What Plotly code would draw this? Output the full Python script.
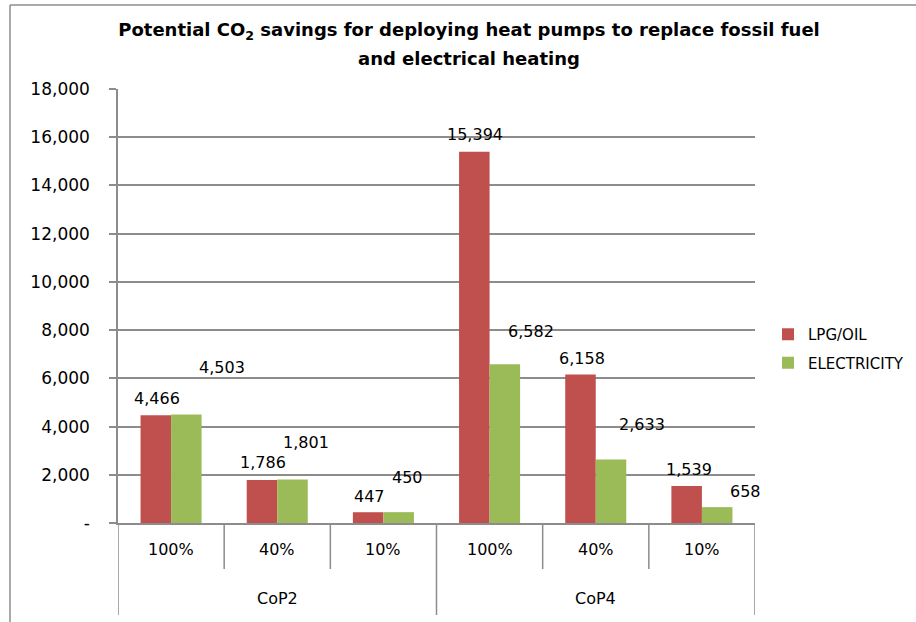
import plotly.graph_objects as go

# ---- data ----
groups = ["CoP2", "CoP4"]
shares = ["100%", "40%", "10%"]
series_names = ["LPG/OIL", "ELECTRICITY"]
lpg_oil = [4466, 1786, 447, 15394, 6158, 1539]
electricity = [4503, 1801, 450, 6582, 2633, 658]
y_ticks = [0, 2000, 4000, 6000, 8000, 10000, 12000, 14000, 16000, 18000]
title_lines = ["Potential CO<sub>2</sub> savings for deploying heat pumps to replace fossil fuel",
               "and electrical heating"]

# label placement offsets (px) reproducing the manually moved Excel labels
lpg_label_dx = [-14, -14, -14, -15, -14, -13]
lpg_label_dy = [17, 17, 16, 17, 16, 16]
elec_label_dx = [51, 29, 24, 41, 46, 44]
elec_label_dy = [47, 37, 35, 33, 35, 16]

colors = ["#C0504D", "#9BBB59"]
grid = "#8C8C8C"
FONT = "DejaVu Sans"

keys = [f"{g} {s}" for g in groups for s in shares]
W, H = 916, 622
L, R, T, B = 118, 161, 89, 99
plot_h = H - T - B
plot_w = W - L - R

fig = go.Figure()
fig.add_trace(go.Bar(x=keys, y=lpg_oil, name=series_names[0], marker_color=colors[0],
                     marker_line_width=0, legendgroup="a"))
fig.add_trace(go.Bar(x=keys, y=electricity, name=series_names[1], marker_color=colors[1],
                     marker_line_width=0, legendgroup="b"))

ann = []
for vals, dxs, dys in [(lpg_oil, lpg_label_dx, lpg_label_dy), (electricity, elec_label_dx, elec_label_dy)]:
    for k, v, dx, dy in zip(keys, vals, dxs, dys):
        ann.append(dict(x=k, y=v, xref="x", yref="y", text=f"{v:,}", showarrow=False,
                        xshift=dx, yshift=dy, font=dict(family=FONT, size=16, color="#000"),
                        xanchor="center", yanchor="middle"))

# category axis labels
for k, s in zip(keys, shares * len(groups)):
    ann.append(dict(x=k, y=0, xref="x", yref="paper", text=s, showarrow=False,
                    yshift=-26, font=dict(family=FONT, size=16, color="#000"),
                    xanchor="center", yanchor="middle"))
for gi, g in enumerate(groups):
    mid = keys[gi * len(shares) + len(shares) // 2]
    ann.append(dict(x=mid, y=0, xref="x", yref="paper", text=g, showarrow=False,
                    yshift=-75, font=dict(family=FONT, size=16, color="#000"),
                    xanchor="center", yanchor="middle"))

# second title line
ann.append(dict(x=(469 - L) / plot_w, y=1 + (T - 58) / plot_h, xref="paper", yref="paper",
                text="<b>" + title_lines[1] + "</b>",
                showarrow=False, xanchor="center", yanchor="middle",
                font=dict(family=FONT, size=18, color="#000")))

shapes = []
n = len(keys)
for i in range(n + 1):
    is_div = i % len(shares) == 0
    depth = 92 if is_div else 46
    shapes.append(dict(type="line", xref="x", yref="paper", x0=i - 0.5, x1=i - 0.5,
                       y0=0, y1=-depth / plot_h, line=dict(color=grid, width=1.5)))
# chart area border (left & top visible)
shapes.append(dict(type="line", xref="paper", yref="paper",
                   x0=(10 - L) / plot_w, x1=(10 - L) / plot_w,
                   y0=1 + (T - 5) / plot_h, y1=-(H - T) / plot_h,
                   line=dict(color="#8C8C8C", width=1.5)))
shapes.append(dict(type="line", xref="paper", yref="paper",
                   x0=(10 - L) / plot_w, x1=(W - L) / plot_w,
                   y0=1 + (T - 5) / plot_h, y1=1 + (T - 5) / plot_h,
                   line=dict(color="#8C8C8C", width=1.5)))

fig.update_layout(
    width=W, height=H,
    margin=dict(l=L, r=R, t=T, b=B, autoexpand=False),
    paper_bgcolor="white", plot_bgcolor="white",
    barmode="group", bargap=0.425, bargroupgap=0,
    title=dict(text=title_lines[0],
               x=469 / W, xanchor="center", xref="container",
               y=1 - 30 / H, yanchor="middle", yref="container",
               font=dict(family=FONT, size=18, color="#000", weight="bold")),
    font=dict(family=FONT, size=16, color="#000"),
    showlegend=True,
    legend=dict(x=(768 - L) / plot_w, y=1 - (318 - T) / plot_h, xanchor="left", yanchor="top",
                font=dict(family=FONT, size=15, color="#000"), traceorder="grouped",
                tracegroupgap=6, bgcolor="rgba(0,0,0,0)"),
    xaxis=dict(type="category", showticklabels=False, ticks="", showgrid=False,
               showline=True, linecolor=grid, linewidth=1.5, range=[-0.5, n - 0.5],
               fixedrange=True),
    yaxis=dict(range=[0, 18000], tickvals=y_ticks,
               ticktext=["-" if v == 0 else f"{v:,}" for v in y_ticks],
               showgrid=True, gridcolor=grid, gridwidth=1.5,
               showline=True, linecolor=grid, linewidth=1.5,
               ticks="outside", ticklen=7, tickcolor=grid, tickwidth=1.5,
               ticklabelstandoff=16, zeroline=False,
               tickfont=dict(family=FONT, size=17, color="#000")),
    annotations=ann, shapes=shapes,
)

fig.write_html("out.html", config={"displayModeBar": False},
               post_script="document.body.style.margin='0';")
